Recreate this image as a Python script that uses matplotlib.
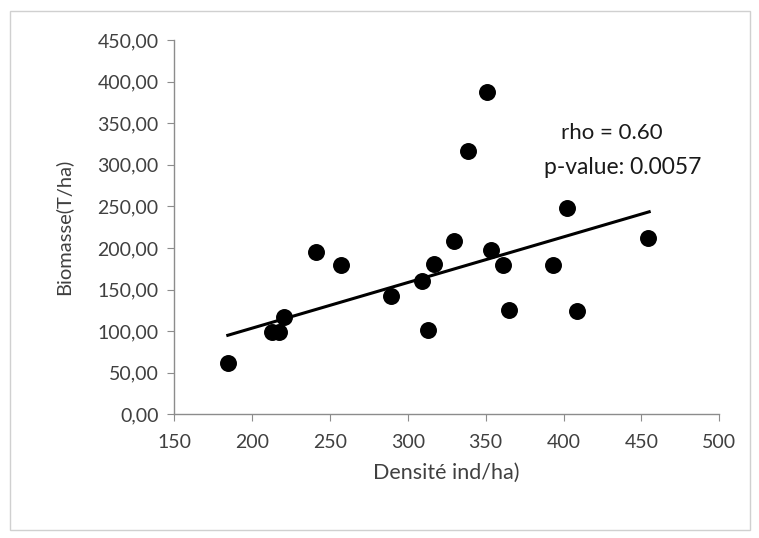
import numpy as np
import matplotlib
matplotlib.use("Agg")
import matplotlib.pyplot as plt
from matplotlib.ticker import FuncFormatter
from matplotlib.patches import Rectangle

plt.rcParams['font.family'] = ['Lato', 'DejaVu Sans']

# données
densite = [184.5, 212.7, 217.4, 220.8, 241.3, 257.4, 289.1, 309.0, 312.8, 317.1,
           329.7, 338.5, 350.9, 353.5, 361.4, 365.1, 393.5, 402.0, 408.5, 454.2]
biomasse = [62, 99, 99, 117, 195, 179, 142, 160, 101, 181,
            208, 317, 387, 198, 179, 125, 180, 248, 124, 212]
# droite de tendance telle que tracée sur la figure
tendance_x = [184.5, 455]
tendance_y = [95, 243.5]
x_ticks = [150, 200, 250, 300, 350, 400, 450, 500]
y_ticks = [0, 50, 100, 150, 200, 250, 300, 350, 400, 450]
rho_txt = "rho = 0.60"
pval_txt = "p-value: 0.0057"

fig = plt.figure(figsize=(7.59, 5.38), dpi=100)
ax = fig.add_axes([0.2293, 0.2299, 0.7184, 0.6957])

ax.scatter(densite, biomasse, s=125, color='black', zorder=3)
ax.plot(tendance_x, tendance_y, color='black', lw=2.2, zorder=2)

ax.text(431, 338, rho_txt, ha='center', va='center', fontsize=16, color='#1a1a1a')
ax.text(438, 297, pval_txt, ha='center', va='center', fontsize=16.5, color='#1a1a1a')

ax.set_xlim(150, 500)
ax.set_ylim(0, 450)
ax.set_xticks(x_ticks)
ax.set_yticks(y_ticks)
ax.yaxis.set_major_formatter(FuncFormatter(lambda v, p: f"{v:.2f}".replace('.', ',')))

for s in ['top', 'right']:
    ax.spines[s].set_visible(False)
for s in ['left', 'bottom']:
    ax.spines[s].set_color('#8c8c8c')
    ax.spines[s].set_linewidth(1)
ax.tick_params(axis='both', colors='#8c8c8c', labelcolor='#404040',
               labelsize=14, length=5, direction='out')
ax.tick_params(axis='x', pad=9)
ax.tick_params(axis='y', pad=6)

ax.set_xlabel("Densité ind/ha)", fontsize=15.5, color='#404040', labelpad=9)
ax.set_ylabel("Biomasse(T/ha)", fontsize=14.5, color='#404040', labelpad=18)

# cadre de la zone du graphique
fig.patches.append(Rectangle((0.013, 0.015), 0.975, 0.965, transform=fig.transFigure,
                             fill=False, edgecolor='#d0d0d0', lw=1))

fig.savefig("out.png", dpi=100)
